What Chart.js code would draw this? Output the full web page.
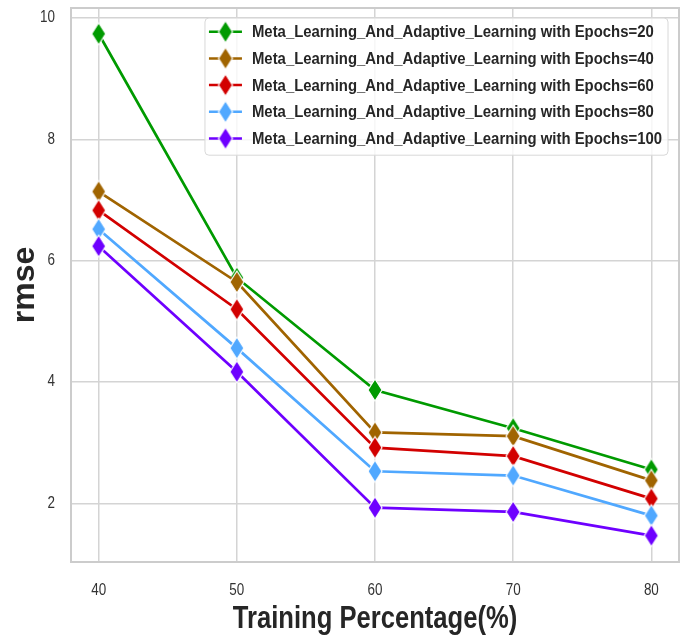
<!DOCTYPE html>
<html>
<head>
<meta charset="utf-8">
<script src="https://cdn.jsdelivr.net/npm/chart.js@4.4.1/dist/chart.umd.min.js"></script>
<style>
  body { margin: 0; background: #fff; }
  .chart-box { width: 682px; height: 641px; }
</style>
</head>
<body>
<div class="chart-box"><canvas id="myChart"></canvas></div>
<script>
const trainingPct = [40, 50, 60, 70, 80];
const epochs20 = [9.74, 5.72, 3.87, 3.24, 2.56];
const epochs40 = [7.14, 5.65, 3.17, 3.11, 2.38];
const epochs60 = [6.83, 5.2, 2.92, 2.78, 2.08];
const epochs80 = [6.52, 4.56, 2.53, 2.46, 1.8];
const epochs100 = [6.24, 4.17, 1.93, 1.86, 1.47];
const seriesNames = [
  "Meta_Learning_And_Adaptive_Learning with Epochs=20",
  "Meta_Learning_And_Adaptive_Learning with Epochs=40",
  "Meta_Learning_And_Adaptive_Learning with Epochs=60",
  "Meta_Learning_And_Adaptive_Learning with Epochs=80",
  "Meta_Learning_And_Adaptive_Learning with Epochs=100",
];
const seriesColors = ["#009a00", "#a06400", "#d20000", "#50a8ff", "#6e00ff"];
const xTicks = [40, 50, 60, 70, 80];
const yTicks = [2, 4, 6, 8, 10];
const xLabel = "Training Percentage(%)";
const yLabel = "rmse";

const baseFont = "'Liberation Sans', Arial, sans-serif";
const gridColor = "#d4d4d4";

// thin diamond marker, like matplotlib "d"
function makeDiamond(color) {
  const c = document.createElement("canvas");
  c.width = 18;
  c.height = 26;
  const g = c.getContext("2d");
  g.beginPath();
  g.moveTo(9, 2);
  g.lineTo(16, 13);
  g.lineTo(9, 24);
  g.lineTo(2, 13);
  g.closePath();
  g.fillStyle = color;
  g.fill();
  g.strokeStyle = "#ffffff";
  g.lineWidth = 1.2;
  g.stroke();
  return c;
}

const allSeries = [epochs20, epochs40, epochs60, epochs80, epochs100];
const datasets = allSeries.map((vals, i) => {
  return {
    label: seriesNames[i],
    data: trainingPct.map((x, k) => ({ x: x, y: vals[k] })),
    borderColor: seriesColors[i],
    backgroundColor: seriesColors[i],
    borderWidth: 2.7,
    pointStyle: makeDiamond(seriesColors[i]),
    pointRadius: 10,
    tension: 0,
    order: allSeries.length - i, // later series sit on top
  };
});

// draws text squeezed sideways, the original picture has narrow lettering
function squeezedText(ctx, text, x, y, squeeze, align) {
  ctx.save();
  ctx.translate(x, y);
  ctx.scale(squeeze, 1);
  ctx.textAlign = align;
  ctx.textBaseline = "middle";
  ctx.fillText(text, 0, 0);
  ctx.restore();
}

const frame = {
  id: "frame",
  beforeDatasetsDraw(chart) {
    const { ctx, chartArea } = chart;
    ctx.save();
    ctx.strokeStyle = "#cccccc";
    ctx.lineWidth = 2;
    ctx.strokeRect(chartArea.left, chartArea.top, chartArea.width, chartArea.height);
    ctx.restore();
  },
};

const axisText = {
  id: "axisText",
  afterDraw(chart) {
    const { ctx, chartArea } = chart;
    const xs = chart.scales.x;
    const ys = chart.scales.y;
    ctx.save();
    ctx.fillStyle = "#333333";
    ctx.font = "16px " + baseFont;
    xTicks.forEach((v) => {
      squeezedText(ctx, String(v), xs.getPixelForValue(v), chartArea.bottom + 29, 0.84, "center");
    });
    yTicks.forEach((v) => {
      squeezedText(ctx, String(v), chartArea.left - 16, ys.getPixelForValue(v), 0.84, "right");
    });
    ctx.fillStyle = "#262626";
    ctx.font = "bold 32px " + baseFont;
    squeezedText(ctx, xLabel, (chartArea.left + chartArea.right) / 2, xs.bottom - 22, 0.8, "center");
    ctx.restore();
  },
};

const insideLegend = {
  id: "insideLegend",
  afterDraw(chart) {
    const { ctx, chartArea } = chart;
    const sets = chart.data.datasets;
    const rowH = 26.7;
    const squeeze = 0.876;
    ctx.save();
    ctx.font = "bold 17px " + baseFont;
    let textW = 0;
    sets.forEach((d) => {
      textW = Math.max(textW, ctx.measureText(d.label).width * squeeze);
    });
    const boxW = textW + 53;
    const boxH = rowH * (sets.length - 1) + 30.4;
    const right = chartArea.right - 11;
    const left = right - boxW;
    const top = chartArea.top + 10;

    ctx.beginPath();
    ctx.roundRect(left, top, boxW, boxH, 4);
    ctx.fillStyle = "rgba(255,255,255,0.8)";
    ctx.fill();
    ctx.strokeStyle = "#d8d8d8";
    ctx.lineWidth = 1;
    ctx.stroke();

    sets.forEach((d, i) => {
      const y = top + 13.7 + rowH * i;
      ctx.beginPath();
      ctx.moveTo(left + 4, y);
      ctx.lineTo(left + 37, y);
      ctx.strokeStyle = d.borderColor;
      ctx.lineWidth = 2.5;
      ctx.stroke();
      const img = d.pointStyle;
      ctx.drawImage(img, left + 20.5 - img.width / 2, y - img.height / 2);
      ctx.fillStyle = "#262626";
      squeezedText(ctx, d.label, left + 47, y + 1, squeeze, "left");
    });
    ctx.restore();
  },
};

const ctx = document.getElementById("myChart");
new Chart(ctx, {
  type: "line",
  data: { datasets: datasets },
  plugins: [frame, axisText, insideLegend],
  options: {
    responsive: true,
    maintainAspectRatio: false,
    animation: false,
    layout: { autoPadding: false, padding: { top: 8, right: 3, left: 0, bottom: 0 } },
    plugins: {
      legend: { display: false },
      tooltip: { enabled: false },
    },
    scales: {
      x: {
        type: "linear",
        min: 38,
        max: 82,
        afterBuildTicks: (axis) => {
          axis.ticks = xTicks.map((v) => ({ value: v }));
        },
        afterFit: (axis) => {
          axis.height = 79;
        },
        grid: { color: gridColor, lineWidth: 1.5, drawTicks: false },
        border: { display: false },
        ticks: { display: false },
      },
      y: {
        min: 1.035,
        max: 10.165,
        afterBuildTicks: (axis) => {
          axis.ticks = yTicks.map((v) => ({ value: v }));
        },
        afterFit: (axis) => {
          axis.width = 71;
        },
        grid: { color: gridColor, lineWidth: 1.5, drawTicks: false },
        border: { display: false },
        ticks: { display: false },
        title: {
          display: true,
          text: yLabel,
          color: "#262626",
          font: { family: baseFont, size: 32, weight: "bold" },
          padding: { top: 6, bottom: 0 },
        },
      },
    },
  },
});
</script>
</body>
</html>
